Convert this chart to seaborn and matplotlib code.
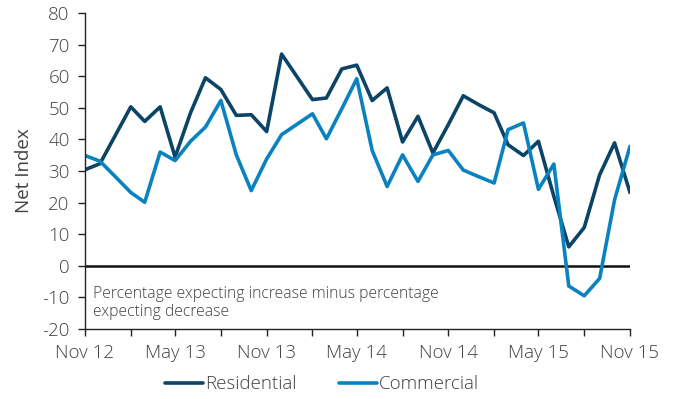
import pandas as pd
import numpy as np
import matplotlib
matplotlib.use("Agg")
import matplotlib.pyplot as plt
import matplotlib.dates as mdates
import seaborn as sns

months = pd.date_range("2012-11-01", "2015-11-01", freq="MS")

residential = [30.4, 32.3, 41.3, 50.3, 45.7, 50.3, 34.4, 48.4, 59.5, 55.8, 47.6, 47.8, 42.5,
               67.0, 59.8, 52.6, 53.1, 62.3, 63.5, 52.3, 56.3, 39.2, 47.3, 35.7, 44.7, 53.8,
               51.0, 48.4, 38.3, 34.9, 39.4, 22.0, 6.0, 12.1, 28.8, 38.9, 23.2]
commercial = [34.9, 33.1, 28.2, 23.2, 20.1, 36.0, 33.3, 39.4, 43.9, 52.3, 35.1, 23.8, 33.8,
              41.5, 44.8, 48.1, 40.2, 49.7, 59.2, 36.5, 25.1, 35.1, 26.7, 35.1, 36.5, 30.3,
              28.2, 26.2, 43.1, 45.2, 24.2, 32.2, -6.4, -9.5, -4.0, 20.9, 37.8]
series_names = ["Residential", "Commercial"]
y_ticks = list(range(-20, 81, 10))
note = "Percentage expecting increase minus percentage\nexpecting decrease"

df = pd.DataFrame({
    "Date": list(months) * 2,
    "Value": residential + commercial,
    "Series": [series_names[0]] * len(months) + [series_names[1]] * len(months),
})

sns.set_style("white")
plt.rcParams["font.family"] = ["Open Sans", "DejaVu Sans"]
plt.rcParams["font.weight"] = "light"

text_col = "#404040"
fs = 13.5
fig = plt.figure(figsize=(6.76, 3.99), dpi=100)
ax = fig.add_axes([85 / 676, 1 - 329 / 399, 545 / 676, 316 / 399])

sns.lineplot(data=df, x="Date", y="Value", hue="Series",
             palette={"Residential": "#0b4467", "Commercial": "#0a82bf"},
             linewidth=2.6, ax=ax, legend=True)

ax.axhline(0, color="#111111", lw=1.8, zorder=1)

ax.set_xlim(months[0], months[-1])
ax.set_ylim(-20, 80)
ax.set_yticks(y_ticks)
ax.set_yticklabels([str(t) for t in y_ticks])

ax.xaxis.set_major_locator(mdates.MonthLocator(bymonth=[5, 11]))
ax.xaxis.set_minor_locator(mdates.MonthLocator(bymonth=[2, 8]))
ax.xaxis.set_major_formatter(mdates.DateFormatter("%b %y"))

for s in ["top", "right"]:
    ax.spines[s].set_visible(False)
for s in ["left", "bottom"]:
    ax.spines[s].set_color("#222222")
    ax.spines[s].set_linewidth(1.0)

ax.tick_params(axis="both", which="both", direction="out", length=5, width=1,
               color="#222222", labelsize=fs, labelcolor=text_col,
               left=True, bottom=True)
ax.tick_params(axis="y", pad=6)
ax.tick_params(axis="x", pad=6)
ax.set_xlabel("")
ax.set_ylabel("Net Index", fontsize=fs, color=text_col, labelpad=7)

ax.text(0.015, 0.135, note, transform=ax.transAxes, ha="left", va="top",
        fontsize=11.3, color=text_col, linespacing=1.12)

handles, labels = ax.get_legend_handles_labels()
ax.legend(handles=handles, labels=labels, loc="center",
          bbox_to_anchor=(0.435, -0.175), ncol=2, frameon=False,
          fontsize=fs, labelcolor=text_col, handlelength=2.0,
          handletextpad=0.1, columnspacing=2.3)

fig.savefig("out.png", dpi=100)
